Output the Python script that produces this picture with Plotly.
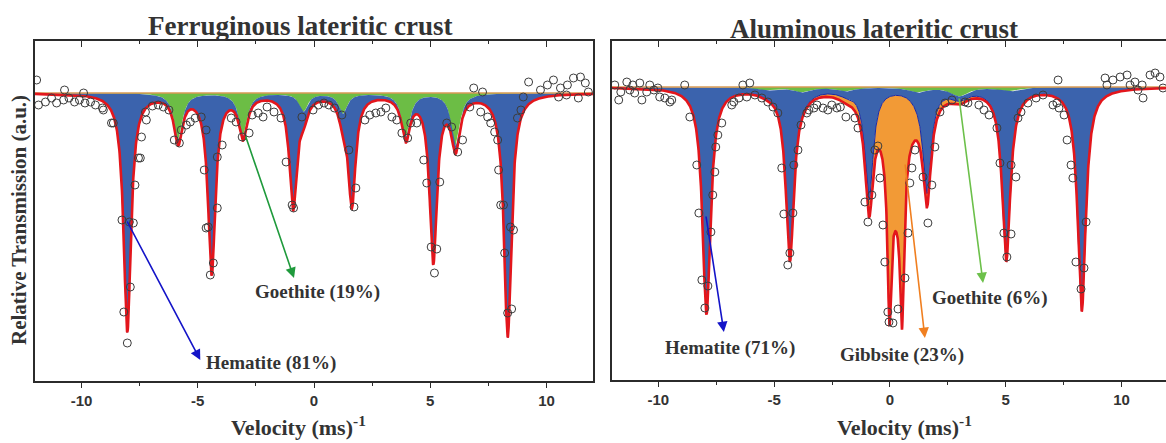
import numpy as np
import plotly.graph_objects as go

# ---------------- data ----------------
vel_ticks = [-10, -5, 0, 5, 10]
vel_ticktext = ["-10", "-5", "0", "5", "10"]
baseline = 1000.0

# Ferruginous lateritic crust: fitted sub-spectra (line position mm/s, depth a.u., HWHM mm/s)
fe_hem_pos = [-8.03, -4.40, -0.90, 1.63, 5.13, 8.33]
fe_hem_depth = [238, 179, 112, 108, 166, 243]
fe_hem_hwhm = [0.19, 0.19, 0.19, 0.19, 0.19, 0.19]
fe_goe_pos = [-5.84, -3.05, -0.45, 1.25, 3.95, 6.09]
fe_goe_depth = [47, 42, 18, 20, 43, 52]
fe_goe_hwhm = [0.22, 0.22, 0.22, 0.22, 0.22, 0.22]

# Aluminous lateritic crust
al_hem_pos = [-7.92, -4.32, -0.90, 1.60, 5.02, 8.28]
al_hem_depth = [226, 169, 110, 101, 168, 223]
al_hem_hwhm = [0.21, 0.21, 0.21, 0.21, 0.21, 0.21]
al_goe_pos = [-5.3, -3.8, -1.9, 1.2, 3.0, 5.2]
al_goe_depth = [3, 5, 4, 5, 9, 4]
al_goe_hwhm = [0.45, 0.45, 0.45, 0.45, 0.45, 0.45]
al_gib_pos = [-0.02, 0.52, 0.27]
al_gib_depth = [150, 150, 100]
al_gib_hwhm = [0.10, 0.10, 0.48]

# measured points (velocity mm/s, transmission a.u.)
fe_v = [-11.93, -11.85, -11.55, -11.29, -11.07, -10.77, -10.73, -10.54, -10.30, -10.09, -9.91, -9.85,
        -9.61, -9.40, -9.10, -9.06, -8.71, -8.63, -8.26, -8.18, -8.03, -7.94, -7.90, -7.77, -7.70,
        -7.55, -7.47, -7.42, -7.25, -7.21, -6.95, -6.70, -6.48, -6.24, -6.01, -5.79, -5.71, -5.49,
        -5.32, -5.11, -4.85, -4.72, -4.64, -4.64, -4.55, -4.46, -4.33, -4.16, -4.16, -3.95, -3.56,
        -3.35, -3.09, -2.79, -2.66, -2.40, -2.19, -2.02, -1.72, -1.42, -1.20, -0.94, -0.88, -0.52,
        -0.04, 0.19, 0.43, 0.64, 0.88, 1.20, 1.50, 1.72, 1.80, 2.19, 2.40, 2.66, 2.88, 3.09, 3.35,
        3.56, 3.78, 4.03, 4.16, 4.42, 4.72, 4.85, 5.04, 5.18, 5.28, 5.41, 5.71, 5.92, 6.18, 6.39,
        6.70, 6.87, 7.17, 7.25, 7.47, 7.60, 7.77, 7.90, 7.94, 8.03, 8.15, 8.20, 8.33, 8.45, 8.50,
        8.58, 8.75, 8.90, 9.00, 9.23, 9.74, 10.04, 10.30, 10.52, 10.60, 10.86, 10.90, 11.16, 11.37,
        11.46, 11.67, 11.80]
fe_t = [1013, 988, 991, 995, 990, 993, 1003, 995, 991, 993, 1000, 990,
        991, 988, 985, 983, 970, 970, 873, 781, 750, 871, 806, 870, 908,
        935, 935, 956, 981, 973, 987, 988, 986, 983, 953, 950, 963, 968,
        971, 975, 976, 923, 963, 865, 866, 818, 830, 885, 936, 948, 975,
        971, 956, 960, 978, 980, 976, 986, 981, 975, 931, 888, 885, 976,
        983, 988, 990, 988, 985, 978, 943, 886, 905, 973, 978, 980, 981, 985, 976,
        973, 960, 955, 970, 970, 933, 910, 846, 820, 844, 911, 970, 966, 941, 953,
        986, 1005, 981, 1001, 976, 970, 961, 953, 923, 888, 888, 840, 780, 866, 784,
        863, 975, 983, 996, 1011, 1003, 1008, 1013, 996, 1005, 998, 1008, 1015, 995,
        1016, 1010, 1001]

al_v = [-11.88, -11.71, -11.62, -11.36, -11.23, -11.10, -11.02, -10.80, -10.71, -10.50, -10.37,
        -10.19, -10.02, -9.94, -9.72, -9.50, -9.42, -8.86, -8.64, -8.34, -8.25, -8.12, -7.99, -7.86,
        -7.73, -7.65, -7.56, -7.52, -7.43, -7.26, -6.83, -6.74, -6.52, -6.35, -6.18, -6.05, -5.83,
        -5.53, -5.27, -5.05, -4.84, -4.67, -4.58, -4.41, -4.32, -4.19, -4.15, -3.97, -3.84, -3.59,
        -3.50, -3.28, -3.15, -2.89, -2.68, -2.51, -2.29, -2.14, -1.90, -1.51, -1.38, -1.08, -0.95,
        -0.78, -0.65, -0.52, -0.43, -0.30, -0.22, -0.09, -0.04, 0.13, 0.35, 0.65, 0.78, 0.86, 0.95,
        1.08, 1.43, 1.64, 1.81, 1.94, 2.16, 2.38, 2.68, 3.24, 3.37, 3.84, 4.06, 4.28, 4.62, 4.75,
        4.92, 5.05, 5.23, 5.23, 5.44, 5.53, 5.66, 5.96, 6.31, 6.61, 7.04, 7.21, 7.26, 7.30, 7.52,
        7.65, 7.82, 7.90, 8.03, 8.25, 8.38, 8.47, 9.29, 9.37, 9.63, 9.94, 10.24, 10.37, 10.58, 10.71,
        10.89, 10.93, 11.23, 11.45, 11.66, 11.79]
al_t = [1002, 987, 995, 1005, 997, 1002, 994, 1004, 987, 995, 1002,
        997, 999, 990, 989, 985, 987, 1002, 970, 922, 874, 807, 779, 801,
        855, 892, 915, 940, 952, 964, 982, 985, 989, 1002, 990, 1004, 992,
        989, 985, 980, 974, 919, 873, 822, 834, 874, 922, 937, 962, 974,
        977, 979, 982, 979, 977, 982, 979, 980, 970, 969, 959, 885, 865,
        892, 937, 941, 909, 862, 825, 775, 765, 764, 778, 809, 854, 904, 919,
        937, 910, 864, 902, 940, 975, 984, 987, 985, 984, 982, 977, 972, 959, 924,
        854, 830, 853, 922, 910, 969, 975, 984, 989, 992, 982, 984, 1007, 979, 972,
        947, 922, 909, 825, 798, 819, 865, 1009, 1002, 1007, 1010, 1012, 1002, 1005, 997,
        1002, 989, 1012, 1014, 1010, 999]

# ---------------- model curves from fitted parameters ----------------
grid = np.linspace(-12, 12, 2401)


def lorentz_sum(pos, depth, hwhm):
    out = np.zeros_like(grid)
    for p, d, w in zip(pos, depth, hwhm):
        out += d / (1.0 + ((grid - p) / w) ** 2)
    return out


GREEN = "#6cbd45"
BLUE = "#3b63ad"
ORANGE = "#f29a36"
RED = "#e3161c"
FRAME = "#2b2b2b"
TEXT = "#333333"

fig = go.Figure()


def band(upper, lower, color, xa, ya):
    fig.add_trace(go.Scatter(
        x=np.concatenate([grid, grid[::-1]]),
        y=np.concatenate([upper, lower[::-1]]),
        fill="toself", fillcolor=color, mode="lines", line=dict(width=0),
        hoverinfo="skip", showlegend=False, xaxis=xa, yaxis=ya))


def panel(xa, ya, hem, goe, gib, pv, pt):
    base = np.full_like(grid, baseline)
    g = lorentz_sum(*goe)
    h = lorentz_sum(*hem)
    gb = lorentz_sum(*gib) if gib is not None else np.zeros_like(grid)
    band(base, base - g, GREEN, xa, ya)
    band(base - g, base - g - h, BLUE, xa, ya)
    if gib is not None:
        band(base - g - h, base - g - h - gb, ORANGE, xa, ya)
    fig.add_trace(go.Scatter(x=grid, y=base, mode="lines", line=dict(color="#d99a55", width=1.3),
                             hoverinfo="skip", showlegend=False, xaxis=xa, yaxis=ya))
    fig.add_trace(go.Scatter(x=grid, y=base - g - h, mode="lines", line=dict(color="#1a2aa8", width=1),
                             hoverinfo="skip", showlegend=False, xaxis=xa, yaxis=ya))
    fig.add_trace(go.Scatter(x=grid, y=base - g - h - gb, mode="lines", line=dict(color=RED, width=2.6),
                             hoverinfo="skip", showlegend=False, xaxis=xa, yaxis=ya))
    fig.add_trace(go.Scatter(x=pv, y=pt, mode="markers",
                             marker=dict(symbol="circle-open", size=8, color="#3d3d3d", line=dict(width=1)),
                             hoverinfo="skip", showlegend=False, xaxis=xa, yaxis=ya))


panel("x", "y", (fe_hem_pos, fe_hem_depth, fe_hem_hwhm), (fe_goe_pos, fe_goe_depth, fe_goe_hwhm), None, fe_v, fe_t)
panel("x2", "y2", (al_hem_pos, al_hem_depth, al_hem_hwhm), (al_goe_pos, al_goe_depth, al_goe_hwhm),
      (al_gib_pos, al_gib_depth, al_gib_hwhm), al_v, al_t)

# dummy traces so the overlaid top axes render
fig.add_trace(go.Scatter(x=[None], y=[None], xaxis="x3", yaxis="y", showlegend=False))
fig.add_trace(go.Scatter(x=[None], y=[None], xaxis="x4", yaxis="y2", showlegend=False))

W, H = 1166, 443


def px(x):
    return x / W


def py(y):
    return 1 - y / H


tickfont = dict(family="Liberation Sans", size=15, color=TEXT, weight="bold")


def bottom_axis(domain, rng, anchor):
    return dict(domain=domain, range=rng, anchor=anchor, showgrid=False, zeroline=False,
                showline=True, linecolor=FRAME, linewidth=1.5, mirror=True,
                ticks="outside", ticklen=5, tickwidth=1.2, tickcolor=FRAME,
                tickvals=vel_ticks, ticktext=vel_ticktext, tickfont=tickfont,
                minor=dict(ticks="outside", ticklen=3, tickwidth=1, tickcolor=FRAME, tick0=0, dtick=2.5),
                automargin=False)


def top_axis(over, rng, anchor):
    return dict(overlaying=over, side="top", anchor=anchor, range=rng, showgrid=False, zeroline=False,
                showline=False, ticks="inside", ticklen=6, tickwidth=1.2, tickcolor=FRAME,
                tickvals=vel_ticks, showticklabels=False,
                minor=dict(ticks="inside", ticklen=3, tickwidth=1, tickcolor=FRAME, tick0=0, dtick=2.5),
                automargin=False)


def y_axis(domain, rng, anchor, mirror):
    return dict(domain=domain, range=rng, anchor=anchor, showgrid=False, zeroline=False,
                showline=True, linecolor=FRAME, linewidth=1.5, mirror=mirror,
                showticklabels=False, ticks="", automargin=False)


rng_l = [-12, 12]
rng_r = [-12, 11.92]
fig.update_layout(
    width=W, height=H, margin=dict(l=0, r=0, t=0, b=0),
    paper_bgcolor="white", plot_bgcolor="white", showlegend=False,
    xaxis=bottom_axis([px(35), px(593)], rng_l, "y"),
    xaxis2=bottom_axis([px(612), 1.0], rng_r, "y2"),
    xaxis3=top_axis("x", rng_l, "y"),
    xaxis4=top_axis("x2", rng_r, "y2"),
    yaxis=y_axis([py(381), py(41)], [712, 1052], "x", True),
    yaxis2=y_axis([py(380), py(41)], [707, 1046], "x2", False),
)

serif = "Liberation Serif"
ann = []


def ptext(text, x, y, size, angle=0):
    return dict(text=text, x=px(x), y=py(y), xref="paper", yref="paper", xanchor="center", yanchor="middle",
                showarrow=False, textangle=angle, font=dict(family=serif, size=size, color=TEXT))


# titles
ann.append(ptext("<b>Ferruginous lateritic crust</b>", 300, 26, 27))
ann.append(ptext("<b>Aluminous lateritic crust</b>", 874, 29, 27))
# axis titles
ann.append(ptext("<b>Relative Transmission (a.u.)</b>", 19, 220, 21, -90))
ann.append(ptext("<b>Velocity (ms)<sup>-1</sup></b>", 299, 426, 22))
ann.append(ptext("<b>Velocity (ms)<sup>-1</sup></b>", 904, 426, 22))

# phase labels
lab_font = dict(family=serif, size=19, color=TEXT)


def dtext(text, x, y, xa, ya):
    return dict(text=text, x=x, y=y, xref=xa, yref=ya, xanchor="center", yanchor="middle",
                showarrow=False, font=lab_font)


ann.append(dtext("<b>Goethite (19%)</b>", 0.17, 801, "x", "y"))
ann.append(dtext("<b>Hematite (81%)</b>", -1.85, 730, "x", "y"))
ann.append(dtext("<b>Hematite (71%)</b>", -6.91, 739, "x2", "y2"))
ann.append(dtext("<b>Gibbsite (23%)</b>", 0.52, 732, "x2", "y2"))
ann.append(dtext("<b>Goethite (6%)</b>", 4.32, 789, "x2", "y2"))


def arrow(xa, ya, x0, y0, x1, y1, color):
    return dict(text="", x=x1, y=y1, ax=x0, ay=y0, xref=xa, yref=ya, axref=xa, ayref=ya,
                showarrow=True, arrowhead=2, arrowsize=1.3, arrowwidth=1.6, arrowcolor=color,
                standoff=0, startstandoff=0)


ann.append(arrow("x", "y", -2.96, 958, -0.86, 815, "#1f9a3c"))
ann.append(arrow("x", "y", -8.07, 873, -4.89, 733, "#1414c8"))
ann.append(arrow("x2", "y2", -7.95, 872, -7.17, 755, "#1414c8"))
ann.append(arrow("x2", "y2", 0.65, 924, 1.51, 749, "#f07f20"))
ann.append(arrow("x2", "y2", 2.98, 990, 4.02, 804, "#6cc04a"))

fig.update_layout(annotations=ann)
fig.write_html("out.html")
